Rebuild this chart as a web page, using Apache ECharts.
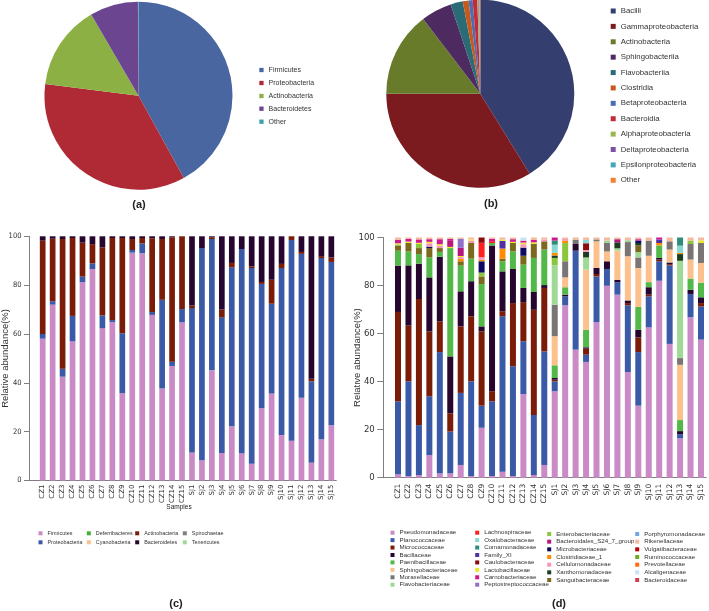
<!DOCTYPE html>
<html><head><meta charset="utf-8">
<script src="https://cdn.jsdelivr.net/npm/echarts@6/dist/echarts.min.js"></script>
<style>
html,body{margin:0;padding:0;background:#fff;width:709px;height:611px;overflow:hidden;}
.p{position:absolute;}
</style></head><body>
<div id="pa" class="p" style="left:0;top:0;width:354px;height:225px"></div>
<div id="pb" class="p" style="left:354px;top:0;width:355px;height:225px"></div>
<div id="pc" class="p" style="left:0;top:225px;width:354px;height:386px"></div>
<div id="pd" class="p" style="left:354px;top:225px;width:355px;height:386px"></div>
<script>
// ---------- DATA ----------
// (a) phylum pie
const phylaA = ['Firmicutes','Proteobacteria','Actinobacteria','Bacteroidetes','Other'];
const phylaAValues = [42.0, 35.0, 14.6, 8.3, 0.1];
// (b) class pie
const classesB = ['Bacilli','Gammaproteobacteria','Actinobacteria','Sphingobacteriia','Flavobacteriia','Clostridia','Betaproteobacteria','Bacteroidia','Alphaproteobacteria','Deltaproteobacteria','Epsilonproteobacteria','Other'];
const classesBValues = [41.2, 33.8, 14.6, 5.3, 2.1, 1.0, 0.7, 0.8, 0.15, 0.1, 0.1, 0.15];
// samples
const samples = ['CZ1','CZ2','CZ3','CZ4','CZ5','CZ6','CZ7','CZ8','CZ9','CZ10','CZ11','CZ12','CZ13','CZ14','CZ15',
                 'SJ1','SJ2','SJ3','SJ4','SJ5','SJ6','SJ7','SJ8','SJ9','SJ10','SJ11','SJ12','SJ13','SJ14','SJ15'];
const yTicks = [0,20,40,60,80,100];
// (c) phylum stacked bars
const firmicutes     = [58.1,72.0,42.5,57.0,81.2,86.6,62.4,64.9,35.8,93.3,93.0,67.8,37.7,46.9,64.8, 11.5,8.3,45.1,11.3,22.2,11.2,6.9,29.6,35.6,18.6,16.3,33.9,7.3,16.9,22.6];
const proteobacteria = [1.9,1.4,3.3,10.4,2.3,2.3,5.2,0.8,24.5,1.1,4.1,1.2,36.3,1.7,5.4, 59.1,86.9,53.8,55.5,65.1,83.6,80.1,50.9,36.8,68.4,82.2,58.9,33.3,74.2,66.9];
const actinobacteria = [38.2,25.6,53.1,31.9,13.9,7.9,27.9,33.6,39.0,4.5,2.2,30.2,24.9,51.0,29.8, 1.1,0,0.7,3.2,1.8,0,0.7,0.8,9.8,1.7,1.5,0.8,1.1,0.8,1.9];
const bacteroidetes  = [1.8,1.0,1.1,0.7,2.6,3.2,4.5,0.7,0.7,1.1,0.7,0.8,1.1,0.4,0, 28.3,4.8,0.4,30.0,10.9,5.2,12.3,18.7,17.8,11.3,0,6.4,58.3,8.1,8.6];
const deferribacteres= [0,0,0,0,0,0,0,0,0,0,0,0,0,0,0, 0,0,0,0,0,0,0,0,0,0,0,0,0,0,0];
const cyanobacteria  = [0,0,0,0,0,0,0,0,0,0,0,0,0,0,0, 0,0,0,0,0,0,0,0,0,0,0,0,0,0,0];
const spirochaetae   = [0,0,0,0,0,0,0,0,0,0,0,0,0,0,0, 0,0,0,0,0,0,0,0,0,0,0,0,0,0,0];
const tenericutes    = [0,0,0,0,0,0,0,0,0,0,0,0,0,0,0, 0,0,0,0,0,0,0,0,0,0,0,0,0,0,0];
// (d) family stacked bars
const pseudomonadaceae   = [1.4,0.7,1.1,9.4,1.8,1.8,5.3,0.7,20.8,0.7,2.5,0.7,34.8,1.1,5.3, 36.0,71.8,53.3,48.2,64.8,79.9,76.2,44.0,30.0,62.6,82.0,55.7,16.4,66.8,57.5];
const planococcaceae     = [30.4,39.4,20.8,24.5,50.5,17.4,30.0,39.4,9.2,31.1,64.7,45.7,22.0,25.0,47.3, 4.1,3.7,41.2,3.0,19.0,7.0,5.2,27.8,22.3,12.9,8.1,32.7,1.7,9.7,13.8];
const micrococcaceae     = [37.2,23.2,52.5,27.0,12.8,7.6,27.7,27.1,30.9,4.2,2.1,26.3,16.3,43.8,26.4, 0.7,0,0,2.5,1.0,0,0,0.9,6.1,0.7,0.7,0.5,0,0,1.4];
const bacillaceae        = [19.3,25.1,14.7,22.5,26.9,23.7,14.6,14.6,2.1,60.7,16.6,14.2,5.9,7.4,1.2, 0.7,0.7,2.8,0.6,2.5,3.2,1.0,1.1,3.2,3.1,0.7,0.7,1.3,1.7,2.4];
const paenibacillaceae   = [6.2,5.8,4.0,8.4,2.0,45.1,10.7,9.4,17.6,1.0,4.2,7.3,9.7,14.2,14.8, 5.3,3.1,0,7.3,0,0,0,0,9.5,2.1,5.2,0,4.6,4.7,6.1];
const sphingobacteriaceae= [0,0,0,0,0,0,0,0,0,0,0,0,0,0,0, 12.1,4.1,0,25.0,11.1,4.1,12.1,18.4,16.2,11.0,0,5.4,23.0,7.9,8.2];
const moraxellaceae      = [0,0,0,0,0,0,0,0,0,0,0,0,0,0,0, 13.1,6.7,1.8,0,0.8,3.5,0,5.9,4.4,6.3,0,3.4,2.8,6.5,8.3];
const flavobacteriaceae  = [0,0,0,0,0,0,0,0,0,0,0,0,0,0,0, 16.4,0,0,5.1,0,1.0,1.0,0.8,2.2,0,0,0,40.5,0,0];
const lachnospiraceae    = [0,0,0,0,0,0,0,0,6.0,0.8,0,0,0,0,0, 0,0,0,0,0,0,0,0,0,0,0,0,0,0,0];
const oxalobacteraceae   = [0,0,0,0,0,0,0,0,0,0,0,0,0,0,0, 3.4,0,0,1.4,0,0,0,0,0,0,0,0,3.0,0,0];
const comamonadaceae     = [0,0,0,0,0,0,0,0,0,0,0,0,0,0,0, 1.7,0,0,0,0,0,0,0,0,0,0,0,3.4,0,0];
const familyXI           = [0,0,0,0,0,0,0,0,0,0,3.2,0,0,0,0, 0,0,0,0,0,0,0,0,0,0,1.5,0,0,0,0];
const caulobacteraceae   = [0,0,0,0,0,0,0,0,2.2,0,0,0,0,0,0, 0,0,0,2.8,0,0,0,0,0,0,0,0,0,0,0];
const lactobacillaceae   = [0.5,0.6,0.5,0.6,0.6,0.5,0.4,0.5,0,0,0.5,0.5,0.7,0.7,0, 0,0,0,0,0,0,0,0,0,0,0,0,0,0,1.1];
const carnobacteriaceae  = [1.4,1.1,1.4,1.1,2.1,0.8,0,0,0,1.0,0,1.1,0.8,1.0,0, 1.3,0,0,0,0,0,0,0,0.6,0,0.8,0,0,0,0];
const peptostreptococcaceae = [0,0,0,0,0,0,3.8,0,0,0,0,0,0,0,0, 0,0,0,0,0,0,0,0,0,0,0,0,0,0,0];
const enterobacteriaceae = [0.4,0,1.7,0,0,0,0,0,1.6,0,0,0,0,0,0, 3.1,7.6,0,0,0,0,0,0,0,0,0,0,0,1.4,0];
const bacteroidalesS24   = [0,0,0,0,0,2.5,3.4,0,0,0,0,0,0,0,0, 0,0,0,0,0,0,1.3,0,0,0,0,0,0,0,0];
const microbacteriaceae  = [0,0,0,0.6,0,0,0,0,4.7,0,0,0,3.4,0,0, 0,0,0,0,0,0,0,0,1.0,0,0,0,0,0,0];
const clostridiaceae1    = [0,0,0,0,0,0,1.0,0,0.7,0,4.2,0,0,0,0, 1.1,0.9,0,0,0,0,0,0,0,0,1.0,0,0.5,0,0];
const cellulomonadaceae  = [0,0,0,1.4,1.0,0,0.8,1.0,1.0,0,0,0,1.4,0,0.8, 0,0.8,0,0.8,0,0,0,0,0,0,0,0,0,0,0];
const xanthomonadaceae   = [0,0,0,0,0,0,0,0,0,0,0,0,0,0,0, 1.0,0,0,2.3,0,0,2.5,0,1.0,0,0,0,2.8,0,0];
const sanguibacteraceae  = [2.2,3.5,2.5,3.8,1.6,0,1.8,6.5,3.2,0,1.1,3.5,3.7,5.8,3.4, 0,0,0,0,0,0,0,0,2.8,0,0,0,0,0,0];
const porphyromonadaceae = [0,0,0,0,0,0,0,0,0,0,0,0,0,0,0, 0,0,0,0,0,0,0,0,0,0,0,0,0,0,0];
const rikenellaceae      = [1.0,0.6,0.8,0.7,0.7,0.6,0.5,0.8,0,0.5,0.9,0.7,0,1.0,0.8, 0,0.6,0.9,1.0,0.8,1.3,0.7,1.1,0.7,1.3,0,1.6,0,1.3,1.2];
const vulgatibacteraceae = [0,0,0,0,0,0,0,0,0,0,0,0,0,0,0, 0,0,0,0,0,0,0,0,0,0,0,0,0,0,0];
const ruminococcaceae    = [0,0,0,0,0,0,0,0,0,0,0,0,0,0,0, 0,0,0,0,0,0,0,0,0,0,0,0,0,0,0];
const prevotellaceae     = [0,0,0,0,0,0,0,0,0,0,0,0,0,0,0, 0,0,0,0,0,0,0,0,0,0,0,0,0,0,0];
const alcaligenaceae     = [0,0,0,0,0,0,0,0,0,0,0,0,1.3,0,0, 0,0,0,0,0,0,0,0,0,0,0,0,0,0,0];
const bacteroidaceae     = [0,0,0,0,0,0,0,0,0,0,0,0,0,0,0, 0,0,0,0,0,0,0,0,0,0,0,0,0,0,0];

// ---------- STYLE ----------
const FN = "'Liberation Sans Narrow','Arial Narrow','DejaVu Sans Condensed',sans-serif";
const FS = "'Liberation Sans',Arial,sans-serif";
const AX = '#7f7f7f';
const TXT = '#333';

function legendAt(name, left, cy, sz, fs, ff) {
  return { data: [name], left: left, top: cy - 5, padding: 0, itemWidth: sz, itemHeight: sz,
    icon: 'rect', selectedMode: false,
    textStyle: { fontSize: fs, fontFamily: ff, color: TXT, lineHeight: 10 } };
}
function label(text, cx, cy, fs, ff, bold) {
  return { text: text, left: cx, top: cy - fs * 0.6, textAlign: 'center', padding: 0,
    textStyle: { fontSize: fs, fontFamily: ff, fontWeight: bold ? 'bold' : 'normal', color: '#222' } };
}

// ---------- (a) ----------
const colorsA = ['#4a66a0','#b02a36','#8cb043','#6b4590','#3c9fac'];
const chartA = echarts.init(document.getElementById('pa'));
chartA.setOption({
  animation: false,
  color: colorsA,
  title: [label('(a)', 139, 206, 11, FS, true)],
  legend: phylaA.map((n, i) => legendAt(n, 259.3, [70, 83, 96, 108.7, 121.7][i], 4.3, 7, FS)),
  series: [{ type: 'pie', center: [138.5, 95.7], radius: 94, startAngle: 90, clockwise: true,
    label: { show: false }, labelLine: { show: false }, silent: true,
    data: phylaA.map((n, i) => ({ name: n, value: phylaAValues[i] })) }]
});

// ---------- (b) ----------
const colorsB = ['#343f6f','#7b1a1f','#677b2a','#4d2a60','#2b6b78','#c65a1a','#4c6cb6','#c42a38','#97b84c','#7a52a3','#45a6b8','#f28030'];
const chartB = echarts.init(document.getElementById('pb'));
chartB.setOption({
  animation: false,
  color: colorsB,
  title: [label('(b)', 137, 205, 11, FS, true)],
  legend: classesB.map((n, i) => legendAt(n, 256.7, 11 + i * 15.39, 5, 7.8, FS)),
  series: [{ type: 'pie', center: [126.3, 93.7], radius: 94, startAngle: 90, clockwise: true,
    label: { show: false }, labelLine: { show: false }, silent: true,
    data: classesB.map((n, i) => ({ name: n, value: classesBValues[i] })) }]
});

// ---------- shared bar-axis builder ----------
function barAxes(mainLeft, mainWidth, frameLeft, top, height, xfs, xmargin, yfs, ymargin, tickLen, nameGap) {
  return {
    grid: [
      { left: mainLeft, top: top, width: mainWidth, height: height, containLabel: false, outerBoundsMode: 'none' },
      { left: frameLeft, top: top, width: mainLeft + mainWidth - frameLeft, height: height, containLabel: false, outerBoundsMode: 'none' }
    ],
    xAxis: [
      { type: 'category', gridIndex: 0, data: samples,
        axisLine: { show: false }, axisTick: { show: false },
        axisLabel: { rotate: 90, interval: 0, fontSize: xfs, margin: xmargin, fontFamily: "'DejaVu Sans',sans-serif", color: TXT } },
      { type: 'value', gridIndex: 1, min: 0, max: 1,
        axisLine: { show: true, onZero: false, lineStyle: { color: AX } }, axisTick: { show: false },
        axisLabel: { show: false }, splitLine: { show: false } }
    ],
    yAxis: [
      { type: 'value', gridIndex: 0, min: 0, max: 100, show: false },
      { type: 'value', gridIndex: 1, min: yTicks[0], max: yTicks[yTicks.length - 1], interval: 20,
        axisLine: { show: true, onZero: false, lineStyle: { color: AX } },
        axisTick: { show: true, length: tickLen, lineStyle: { color: AX } },
        axisLabel: { fontSize: yfs, margin: ymargin, fontFamily: FN, color: TXT },
        splitLine: { show: false },
        name: 'Relative abundance(%)', nameLocation: 'middle', nameGap: nameGap, nameMoveOverlap: false,
        nameTextStyle: { fontSize: 9.5, fontFamily: FS, color: TXT } }
    ]
  };
}

// ---------- (c) ----------
const phylaC = [
  ['Firmicutes', firmicutes, '#c98ac6'],
  ['Proteobacteria', proteobacteria, '#3a5aa8'],
  ['Actinobacteria', actinobacteria, '#7a1c08'],
  ['Bacteroidetes', bacteroidetes, '#26062e'],
  ['Deferribacteres', deferribacteres, '#44b03a'],
  ['Cyanobacteria', cyanobacteria, '#fcc08c'],
  ['Spirochaetae', spirochaetae, '#7f7f7f'],
  ['Tenericutes', tenericutes, '#9fd996']
];
const legendColsC = [['Firmicutes','Proteobacteria'],['Deferribacteres','Cyanobacteria'],['Actinobacteria','Bacteroidetes'],['Spirochaetae','Tenericutes']];
const legendXC = [38.5, 86.8, 135.2, 182.8];
const legendYC = [308.3, 317.3];
const chartC = echarts.init(document.getElementById('pc'));
const optC = barAxes(37.7, 298.6, 29, 11.3, 244.2, 7, 4, 7.5, 7.5, 5, 19);
optC.animation = false;
optC.title = [label('(c)', 176, 380, 11, FS, true), label('Samples', 179, 282.5, 6.5, FS, false)];
optC.legend = [];
legendColsC.forEach((col, ci) => col.forEach((n, ri) => optC.legend.push(legendAt(n, legendXC[ci], legendYC[ri], 4, 5.4, FS))));
optC.series = phylaC.map(([n, arr, c]) => ({ name: n, type: 'bar', stack: 'c', xAxisIndex: 0, yAxisIndex: 0,
  barWidth: 5.7, data: arr, itemStyle: { color: c }, silent: true }));
chartC.setOption(optC);

// ---------- (d) ----------
const familiesD = {
  'Pseudomonadaceae': [pseudomonadaceae, '#c98ac6'],
  'Planococcaceae': [planococcaceae, '#3a5aa8'],
  'Micrococcaceae': [micrococcaceae, '#7a1c08'],
  'Bacillaceae': [bacillaceae, '#26062e'],
  'Paenibacillaceae': [paenibacillaceae, '#52b848'],
  'Sphingobacteriaceae': [sphingobacteriaceae, '#fcc08c'],
  'Moraxellaceae': [moraxellaceae, '#7a7474'],
  'Flavobacteriaceae': [flavobacteriaceae, '#9fd996'],
  'Lachnospiraceae': [lachnospiraceae, '#ff2020'],
  'Oxalobacteraceae': [oxalobacteraceae, '#86d9d0'],
  'Comamonadaceae': [comamonadaceae, '#2f8c7c'],
  'Family_XI': [familyXI, '#5030a0'],
  'Caulobacteraceae': [caulobacteraceae, '#8b0b0b'],
  'Lactobacillaceae': [lactobacillaceae, '#e8e830'],
  'Carnobacteriaceae': [carnobacteriaceae, '#cc1a8c'],
  'Peptostreptococcaceae': [peptostreptococcaceae, '#9370c8'],
  'Enterobacteriaceae': [enterobacteriaceae, '#8cc63f'],
  'Bacteroidales_S24_7_group': [bacteroidalesS24, '#b5177a'],
  'Microbacteriaceae': [microbacteriaceae, '#0b0b62'],
  'Clostridiaceae_1': [clostridiaceae1, '#ff8c00'],
  'Cellulomonadaceae': [cellulomonadaceae, '#f597b8'],
  'Xanthomonadaceae': [xanthomonadaceae, '#1e3d1e'],
  'Sanguibacteraceae': [sanguibacteraceae, '#7b6a1c'],
  'Porphyromonadaceae': [porphyromonadaceae, '#6fa8dc'],
  'Rikenellaceae': [rikenellaceae, '#f4b99e'],
  'Vulgatibacteraceae': [vulgatibacteraceae, '#c00000'],
  'Ruminococcaceae': [ruminococcaceae, '#6ab023'],
  'Prevotellaceae': [prevotellaceae, '#ff6a13'],
  'Alcaligenaceae': [alcaligenaceae, '#c5e3f2'],
  'Bacteroidaceae': [bacteroidaceae, '#d0404f']
};
const stackOrderD = ['Pseudomonadaceae','Planococcaceae','Micrococcaceae','Bacillaceae','Paenibacillaceae','Sphingobacteriaceae',
  'Moraxellaceae','Flavobacteriaceae','Sanguibacteraceae','Enterobacteriaceae','Xanthomonadaceae','Microbacteriaceae','Clostridiaceae_1',
  'Cellulomonadaceae','Lachnospiraceae','Caulobacteraceae','Oxalobacteraceae','Comamonadaceae','Family_XI','Lactobacillaceae',
  'Bacteroidales_S24_7_group','Carnobacteriaceae','Peptostreptococcaceae','Porphyromonadaceae','Rikenellaceae','Vulgatibacteraceae',
  'Ruminococcaceae','Prevotellaceae','Alcaligenaceae','Bacteroidaceae'];
const legendColsD = [
  ['Pseudomonadaceae','Planococcaceae','Micrococcaceae','Bacillaceae','Paenibacillaceae','Sphingobacteriaceae','Moraxellaceae','Flavobacteriaceae'],
  ['Lachnospiraceae','Oxalobacteraceae','Comamonadaceae','Family_XI','Caulobacteraceae','Lactobacillaceae','Carnobacteriaceae','Peptostreptococcaceae'],
  ['Enterobacteriaceae','Bacteroidales_S24_7_group','Microbacteriaceae','Clostridiaceae_1','Cellulomonadaceae','Xanthomonadaceae','Sanguibacteraceae'],
  ['Porphyromonadaceae','Rikenellaceae','Vulgatibacteraceae','Ruminococcaceae','Prevotellaceae','Alcaligenaceae','Bacteroidaceae']
];
const legendXD = [36.5, 121.2, 193.2, 281.2];
const legendY0D = [307.7, 307.7, 309, 309];
const legendStepD = [7.43, 7.43, 7.67, 7.67];
const chartD = echarts.init(document.getElementById('pd'));
const optD = barAxes(38.8, 313.4, 29.3, 12.5, 240.2, 7.5, 6, 9.5, 8.5, 6, 21);
optD.animation = false;
optD.title = [label('(d)', 205, 380, 11, FS, true)];
optD.legend = [];
legendColsD.forEach((col, ci) => col.forEach((n, ri) =>
  optD.legend.push(legendAt(n, legendXD[ci], legendY0D[ci] + ri * legendStepD[ci], 4, 6.2, FS))));
optD.series = stackOrderD.map(n => ({ name: n, type: 'bar', stack: 'd', xAxisIndex: 0, yAxisIndex: 0,
  barWidth: 6, data: familiesD[n][0], itemStyle: { color: familiesD[n][1] }, silent: true }));
chartD.setOption(optD);
</script>
</body></html>
